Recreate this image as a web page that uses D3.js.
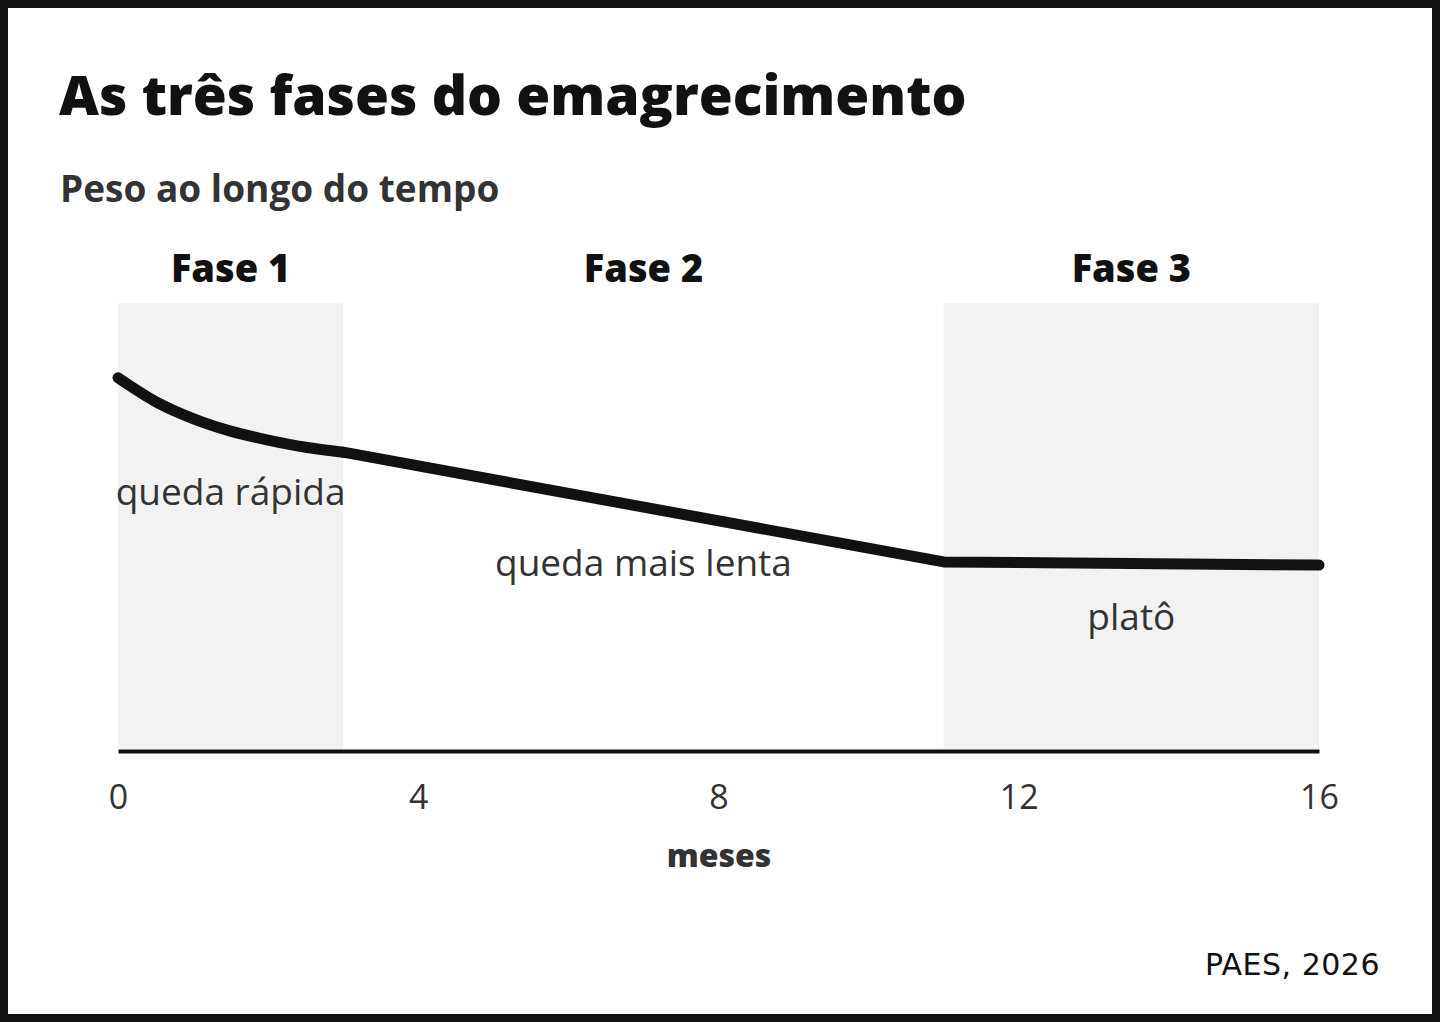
<!DOCTYPE html>
<html><head><meta charset="utf-8">
<script src="https://cdn.jsdelivr.net/npm/d3@7"></script>
<style>
html,body{margin:0;padding:0;background:#fff;}
svg{display:block;}
</style></head><body>
<svg id="c" width="1440" height="1022"></svg>
<script>
const fastMonths = [0, 0.5, 1, 1.5, 2, 2.5, 3];
const fastWeight = [83.3, 78.0, 74.2, 71.4, 69.4, 67.8, 66.7];
const slowMonths = [3, 11, 16];
const slowWeight = [66.7, 42.2, 41.5];
const tickValues = [0, 4, 8, 12, 16];
const phases = [
  {name: "Fase 1", start: 0, end: 3, shaded: true, label: "queda rápida", labelY: 55},
  {name: "Fase 2", start: 3, end: 11, shaded: false, label: "queda mais lenta", labelY: 39},
  {name: "Fase 3", start: 11, end: 16, shaded: true, label: "platô", labelY: 27}
];

const svg = d3.select("#c");
svg.append("rect").attr("x",4).attr("y",4).attr("width",1432).attr("height",1014)
  .attr("fill","#fff").attr("stroke","#111").attr("stroke-width",8);

const x = d3.scaleLinear().domain([0,16]).range([118,1319]);
const y = d3.scaleLinear().domain([0,100]).range([751,303]);

svg.append("text").attr("x",59).attr("y",115).text("As três fases do emagrecimento")
  .attr("font-family","Open Sans").attr("font-weight",800).attr("font-size",55).attr("fill","#111");
svg.append("text").attr("x",60).attr("y",202).text("Peso ao longo do tempo")
  .attr("font-family","Open Sans").attr("font-weight",700).attr("font-size",37).attr("fill","#333");

phases.filter(p=>p.shaded).forEach(p=>{
  svg.append("rect").attr("x",x(p.start)).attr("y",y(100)).attr("width",x(p.end)-x(p.start))
    .attr("height",y(0)-y(100)).attr("fill","#f2f2f2");
});
phases.forEach(p=>{
  const cx = (x(p.start)+x(p.end))/2;
  svg.append("text").attr("x",cx).attr("y",282).attr("text-anchor","middle").text(p.name)
    .attr("font-family","Open Sans").attr("font-weight",800).attr("font-size",38).attr("fill","#111");
  svg.append("text").attr("x",cx).attr("y",y(p.labelY)).attr("text-anchor","middle").text(p.label)
    .attr("font-family","Open Sans").attr("font-size",37).attr("fill","#333");
});

const fastLine = d3.line().x((d,i)=>x(fastMonths[i])).y(d=>y(d)).curve(d3.curveMonotoneX);
const slowLine = d3.line().x((d,i)=>x(slowMonths[i])).y(d=>y(d));
[fastLine(fastWeight), slowLine(slowWeight)].forEach(dd=>{
  svg.append("path").attr("d",dd).attr("fill","none").attr("stroke","#111")
    .attr("stroke-width",11).attr("stroke-linecap","round").attr("stroke-linejoin","round");
});

const ax = svg.append("g").attr("transform",`translate(0,${y(0)})`)
  .call(d3.axisBottom(x).tickValues(tickValues).tickSize(0).tickPadding(34).tickFormat(d3.format("d")));
ax.select(".domain").attr("stroke","#111").attr("stroke-width",4);
ax.selectAll("text").attr("font-family","Open Sans").attr("font-size",34).attr("fill","#333");

svg.append("text").attr("x",719).attr("y",867).attr("text-anchor","middle").text("meses")
  .attr("font-family","Open Sans").attr("font-weight",800).attr("font-size",32).attr("fill","#333");
svg.append("text").attr("x",1380).attr("y",975).attr("text-anchor","end").text("PAES, 2026")
  .attr("font-family","DejaVu Sans").attr("font-size",30).attr("letter-spacing",0.5).attr("fill","#111");
</script></body></html>
